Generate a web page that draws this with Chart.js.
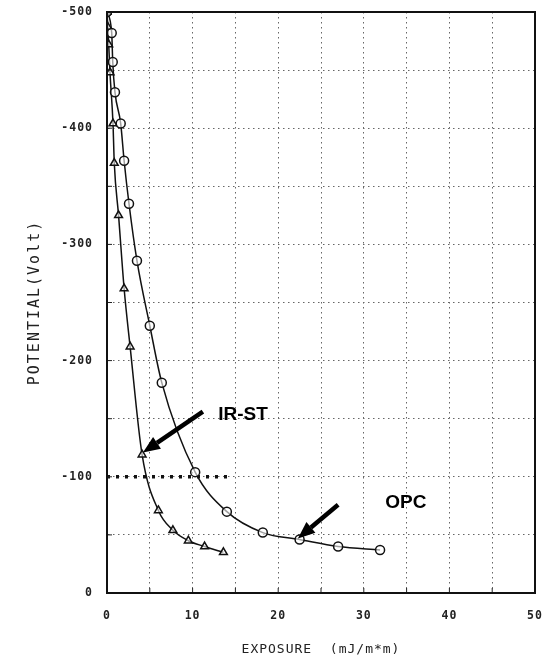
<!DOCTYPE html>
<html>
<head>
<meta charset="utf-8">
<script src="https://cdn.jsdelivr.net/npm/chart.js@4/dist/chart.umd.min.js"></script>
<style>
  body { margin: 0; background: #fff; }
  #wrap { width: 542px; height: 660px; }
</style>
</head>
<body>
<div id="wrap"><canvas id="chart_potencial"></canvas></div>
<script>
// OPC curve (circles): exposure mJ/m*m, potential V
const opcX = [0, 0.55, 0.67, 0.93, 1.6, 2.0, 2.57, 3.5, 5.0, 6.4, 10.3, 14.0, 18.2, 22.5, 27.0, 31.9];
const opcY = [-500, -482, -457, -431, -404, -372, -335, -286, -230, -181, -104, -70, -52, -46, -40, -37];

// IR-ST curve (triangles)
const irX = [0, 0.1, 0.2, 0.35, 0.7, 0.85, 1.35, 2.0, 2.7, 4.1, 6.0, 7.7, 9.5, 11.4, 13.6];
const irY = [-500, -487, -472, -448, -404, -370, -325, -262, -212, -119, -71, -54, -45, -40, -35];

// dotted reference line at -100 V
const refX = [0, 14.5];
const refY = [-100, -100];

const xTicks = [0, 10, 20, 30, 40, 50];
const yTicks = [-500, -400, -300, -200, -100, 0];

// labels with arrows: [text, textX, textY, tailX, tailY, tipX, tipY]
const setas = [
  ["IR-ST", 13.0, -149, 11.2, -156, 4.2, -121],
  ["OPC", 32.5, -73, 27.0, -76, 22.3, -47],
];

function pares(xs, ys) {
  return xs.map((x, i) => ({ x: x, y: ys[i] }));
}

const monoFont = "'DejaVu Sans Mono', monospace";

const moldura = {
  id: "moldura",
  beforeDraw(chart) {
    chart.ctx.letterSpacing = "1px";
  },
  beforeDatasetsDraw(chart) {
    chart.ctx.letterSpacing = "0px";
  },
  afterDraw(chart) {
    const ctx = chart.ctx;
    const a = chart.chartArea;
    const sx = chart.scales.x;
    const sy = chart.scales.y;
    ctx.save();
    // small inside tick marks
    ctx.strokeStyle = "#222";
    ctx.lineWidth = 1;
    for (let v = 5; v < 50; v += 5) {
      const px = sx.getPixelForValue(v);
      ctx.beginPath();
      ctx.moveTo(px, a.bottom);
      ctx.lineTo(px, a.bottom - 5);
      ctx.stroke();
    }
    for (let v = -450; v < 0; v += 50) {
      const py = sy.getPixelForValue(v);
      ctx.beginPath();
      ctx.moveTo(a.left, py);
      ctx.lineTo(a.left + 5, py);
      ctx.stroke();
    }
    // frame
    ctx.strokeStyle = "#111";
    ctx.lineWidth = 2;
    ctx.strokeRect(a.left, a.top, a.right - a.left, a.bottom - a.top);

    // axis titles
    ctx.fillStyle = "#222";
    ctx.textBaseline = "middle";
    ctx.textAlign = "center";
    ctx.letterSpacing = "1px";
    ctx.font = "13px " + monoFont;
    ctx.fillText("EXPOSURE  (mJ/m*m)", (a.left + a.right) / 2, 650);
    ctx.save();
    ctx.translate(35, (a.top + a.bottom) / 2);
    ctx.rotate(-Math.PI / 2);
    ctx.letterSpacing = "2px";
    ctx.font = "15px " + monoFont;
    ctx.fillText("POTENTIAL(Volt)", 0, 0);
    ctx.restore();
    ctx.letterSpacing = "0px";

    // arrows and labels
    setas.forEach(s => {
      const tx = sx.getPixelForValue(s[1]);
      const ty = sy.getPixelForValue(s[2]);
      const x0 = sx.getPixelForValue(s[3]);
      const y0 = sy.getPixelForValue(s[4]);
      const x1 = sx.getPixelForValue(s[5]);
      const y1 = sy.getPixelForValue(s[6]);
      const ang = Math.atan2(y1 - y0, x1 - x0);
      const head = 17;
      const half = 7;
      const bx = x1 - head * Math.cos(ang);
      const by = y1 - head * Math.sin(ang);
      ctx.strokeStyle = "#000";
      ctx.fillStyle = "#000";
      ctx.lineWidth = 4.5;
      ctx.beginPath();
      ctx.moveTo(x0, y0);
      ctx.lineTo(bx, by);
      ctx.stroke();
      ctx.beginPath();
      ctx.moveTo(x1, y1);
      ctx.lineTo(bx + half * Math.sin(ang), by - half * Math.cos(ang));
      ctx.lineTo(bx - half * Math.sin(ang), by + half * Math.cos(ang));
      ctx.closePath();
      ctx.fill();
      ctx.font = "bold 19px 'Liberation Sans', Arial, sans-serif";
      ctx.textAlign = "left";
      ctx.textBaseline = "alphabetic";
      ctx.fillText(s[0], tx, ty);
    });
    ctx.restore();
  },
};

new Chart(document.getElementById("chart_potencial"), {
  type: "scatter",
  data: {
    datasets: [
      {
        label: "OPC",
        data: pares(opcX, opcY),
        showLine: true,
        borderColor: "#111",
        borderWidth: 1.5,
        backgroundColor: "rgba(255,255,255,0.6)",
        pointStyle: "circle",
        pointRadius: 4.5,
        pointBorderWidth: 1.5,
        pointBorderColor: "#111",
        cubicInterpolationMode: "monotone",
      },
      {
        label: "IR-ST",
        data: pares(irX, irY),
        showLine: true,
        borderColor: "#111",
        borderWidth: 1.5,
        backgroundColor: "rgba(255,255,255,0.6)",
        pointStyle: "triangle",
        pointRadius: 4.5,
        pointBorderWidth: 1.5,
        pointBorderColor: "#111",
        cubicInterpolationMode: "monotone",
      },
      {
        label: "ref",
        data: pares(refX, refY),
        showLine: true,
        borderColor: "#111",
        borderWidth: 3.5,
        borderDash: [3, 6],
        pointRadius: 0,
      },
    ],
  },
  options: {
    responsive: true,
    maintainAspectRatio: false,
    animation: false,
    layout: {
      padding: { left: 0, right: 7, top: 12, bottom: 0 },
    },
    plugins: {
      legend: { display: false },
      tooltip: { enabled: false },
    },
    scales: {
      x: {
        type: "linear",
        min: 0,
        max: 50,
        afterBuildTicks(scale) {
          scale.ticks = [];
          for (let v = 0; v <= 50; v += 5) scale.ticks.push({ value: v });
        },
        afterFit(scale) {
          scale.height = 67;
          scale.paddingLeft = 0;
          scale.paddingRight = 0;
        },
        ticks: {
          color: "#222",
          font: { family: monoFont, size: 11.5, weight: "bold" },
          padding: 16,
          maxRotation: 0,
          autoSkip: false,
          callback: v => (xTicks.includes(v) ? String(v) : ""),
        },
        grid: {
          color: "#666",
          lineWidth: 1,
          drawTicks: false,
        },
        border: { color: "#111", width: 2, dash: [1.5, 3.5] },
      },
      y: {
        type: "linear",
        min: -500,
        max: 0,
        reverse: true,
        afterBuildTicks(scale) {
          scale.ticks = [];
          for (let v = -500; v <= 0; v += 50) scale.ticks.push({ value: v });
        },
        afterFit(scale) {
          scale.width = 107;
          scale.paddingTop = 0;
          scale.paddingBottom = 0;
        },
        ticks: {
          color: "#222",
          font: { family: monoFont, size: 11.5, weight: "bold" },
          padding: 14,
          autoSkip: false,
          callback: v => (yTicks.includes(v) ? String(v) : ""),
        },
        grid: {
          color: "#666",
          lineWidth: 1,
          drawTicks: false,
        },
        border: { color: "#111", width: 2, dash: [1.5, 3.5] },
      },
    },
  },
  plugins: [moldura],
});
</script>
</body>
</html>
